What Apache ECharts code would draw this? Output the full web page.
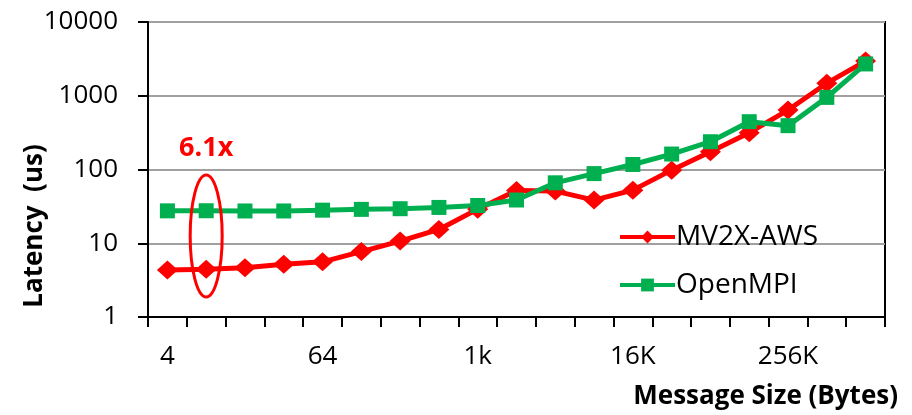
<!DOCTYPE html>
<html>
<head>
<meta charset="utf-8">
<script src="https://cdn.jsdelivr.net/npm/echarts@6/dist/echarts.min.js"></script>
<style>
  html, body { margin: 0; padding: 0; background: #fff; }
  #chart { width: 912px; height: 415px; }
</style>
</head>
<body>
<div id="chart"></div>
<script>
// Message sizes (bytes), one category per power of two
const sizes = ['4', '8', '16', '32', '64', '128', '256', '512', '1k', '2k', '4k', '8k',
               '16K', '32K', '64K', '128K', '256K', '512K', '1M'];

// Latency in microseconds
const mv2xAws = [4.35, 4.45, 4.65, 5.2, 5.6, 7.7, 10.7, 15.4, 29, 52, 51, 38.5,
                 52.5, 98, 174, 316, 640, 1480, 2950];
const openMpi = [27.5, 27.6, 27.4, 27.4, 28.1, 28.8, 29.4, 30.6, 32.5, 38.6, 66, 88,
                 117, 162, 238, 445, 393, 950, 2700];

// Decade ticks on the latency axis
const yTicks = [1, 10, 100, 1000, 10000];

const FONT = '"Open Sans", "Noto Sans", sans-serif';
const RED = '#ff0000';
const GREEN = '#00b050';

const chart = echarts.init(document.getElementById('chart'));

chart.setOption({
  animation: false,
  backgroundColor: '#ffffff',
  grid: {
    left: 148, right: 27, top: 22, bottom: 98,
    show: true, borderColor: '#000', borderWidth: 2, backgroundColor: 'transparent'
  },
  legend: {
    orient: 'vertical',
    left: 613, top: 218,
    itemWidth: 55, itemHeight: 16, itemGap: 20,
    lineStyle: { width: 4 },
    textStyle: { fontFamily: FONT, fontSize: 28, color: '#000', padding: [0, 0, 0, -4] },
    data: ['MV2X-AWS', 'OpenMPI']
  },
  xAxis: {
    type: 'category',
    data: sizes,
    boundaryGap: true,
    axisLine: { lineStyle: { color: '#000', width: 2 } },
    axisTick: { show: true, interval: 0, length: 10, lineStyle: { color: '#000', width: 2 } },
    axisLabel: { interval: 3, margin: 27, fontFamily: FONT, fontSize: 26, color: '#000' },
    splitLine: { show: false }
  },
  yAxis: {
    type: 'log',
    logBase: 10,
    min: yTicks[0],
    max: yTicks[yTicks.length - 1],
    axisLine: { show: true, lineStyle: { color: '#000', width: 2 } },
    axisTick: { show: true, length: 10, lineStyle: { color: '#000', width: 2 } },
    axisLabel: {
      margin: 30, fontFamily: FONT, fontSize: 26, color: '#000',
      formatter: (v) => String(Math.round(v))
    },
    splitLine: { show: true, lineStyle: { color: '#a0a0a0', width: 2 } },
    minorTick: { show: false }
  },
  series: [
    {
      name: 'MV2X-AWS',
      type: 'line',
      data: mv2xAws,
      symbol: 'diamond',
      symbolSize: [21, 19],
      itemStyle: { color: RED },
      lineStyle: { color: RED, width: 5 }
    },
    {
      name: 'OpenMPI',
      type: 'line',
      data: openMpi,
      symbol: 'rect',
      symbolSize: 15,
      itemStyle: { color: GREEN },
      lineStyle: { color: GREEN, width: 5 }
    }
  ]
});

// Highlight ring around the 8-byte point with its speed-up label
const ringTop = chart.convertToPixel({ gridIndex: 0 }, [1, 84]);
const ringBottom = chart.convertToPixel({ gridIndex: 0 }, [1, 1.87]);
const ringX = ringTop[0];
const ringY = (ringTop[1] + ringBottom[1]) / 2;
const ringRy = (ringBottom[1] - ringTop[1]) / 2;

chart.setOption({
  graphic: [
    {
      type: 'ellipse',
      shape: { cx: ringX, cy: ringY, rx: 16, ry: ringRy },
      style: { fill: 'none', stroke: RED, lineWidth: 3 },
      z: 10
    },
    {
      type: 'text',
      x: ringX, y: 148,
      style: {
        text: '6.1x', fill: RED, font: 'bold 27px ' + FONT,
        textAlign: 'center', textVerticalAlign: 'middle'
      },
      z: 10
    },
    {
      type: 'text',
      x: 35, y: 226,
      rotation: Math.PI / 2,
      style: {
        text: 'Latency  (us)', fill: '#000', font: 'bold 26px ' + FONT,
        textAlign: 'center', textVerticalAlign: 'middle'
      }
    },
    {
      type: 'text',
      x: 898, y: 397,
      style: {
        text: 'Message Size (Bytes)', fill: '#000', font: 'bold 26px ' + FONT,
        textAlign: 'right', textVerticalAlign: 'middle'
      }
    }
  ]
});
</script>
</body>
</html>
